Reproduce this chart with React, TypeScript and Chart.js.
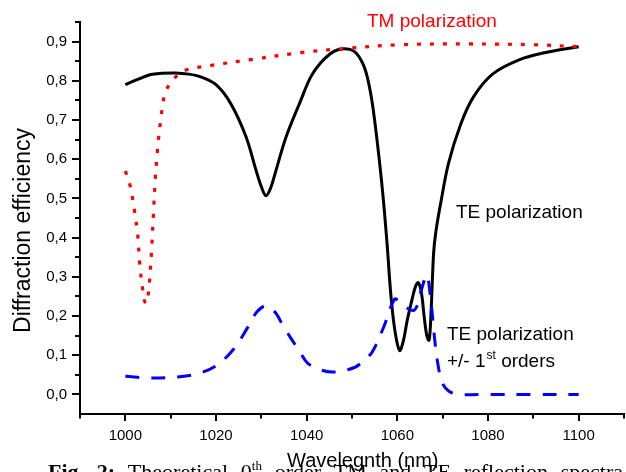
import React, { useEffect, useRef } from "react";
import { Chart, registerables } from "chart.js";

Chart.register(...registerables);

// ---- data ----
const TE0_WL = [1000, 1003, 1005.6, 1008, 1011, 1014, 1016.6, 1020, 1023.3, 1026.6, 1028.8, 1030, 1031, 1032, 1033.2, 1035.4, 1038.7, 1040.9, 1043.1, 1046, 1048.2, 1050.5, 1052.3, 1053.4, 1054.5, 1055.6, 1056.7, 1057.7, 1058.6, 1059.5, 1060.5, 1061.3, 1062.2, 1063.3, 1064, 1064.6, 1065.3, 1066, 1066.5, 1067, 1067.4, 1068, 1068.5, 1069.6, 1071.3, 1074, 1076.8, 1081, 1087, 1093, 1100];
const TE0_EFF = [0.79, 0.805, 0.816, 0.819, 0.82, 0.817, 0.81, 0.79, 0.741, 0.658, 0.573, 0.53, 0.507, 0.525, 0.57, 0.655, 0.75, 0.81, 0.846, 0.875, 0.882, 0.875, 0.846, 0.808, 0.741, 0.641, 0.523, 0.39, 0.25, 0.16, 0.112, 0.135, 0.19, 0.245, 0.275, 0.285, 0.26, 0.19, 0.15, 0.138, 0.2, 0.36, 0.415, 0.49, 0.59, 0.69, 0.759, 0.817, 0.854, 0.873, 0.887];

const TM_WL = [1000, 1001, 1002, 1002.7, 1003.2, 1003.8, 1004.2, 1004.6, 1005.0, 1005.4, 1005.8, 1006.2, 1006.6, 1007.1, 1007.8, 1008.8, 1010.4, 1012.8, 1018.8, 1027.7, 1038.7, 1048, 1060.7, 1075.5, 1090, 1100];
const TM_EFF = [0.57, 0.535, 0.47, 0.41, 0.33, 0.27, 0.24, 0.232, 0.25, 0.3, 0.37, 0.46, 0.55, 0.625, 0.7, 0.77, 0.8, 0.825, 0.839, 0.854, 0.872, 0.882, 0.892, 0.894, 0.892, 0.887];

const TE1_WL = [1000, 1005.6, 1012, 1016.6, 1020.3, 1024, 1027, 1029, 1031, 1033, 1035, 1038.7, 1040.2, 1043, 1046, 1050.4, 1052.5, 1054.5, 1057, 1059.4, 1060.6, 1062.2, 1063.6, 1064.5, 1065.4, 1066.5, 1067.4, 1068.1, 1068.8, 1069.9, 1071.4, 1073.5, 1080, 1090, 1100];
const TE1_EFF = [0.046, 0.042, 0.045, 0.055, 0.075, 0.117, 0.171, 0.21, 0.226, 0.21, 0.171, 0.105, 0.08, 0.063, 0.057, 0.068, 0.085, 0.109, 0.172, 0.243, 0.235, 0.22, 0.214, 0.23, 0.27, 0.304, 0.239, 0.156, 0.088, 0.03, 0.008, 0.0, 0.0, 0.0, 0.0];

const X_TICKS = [1000, 1020, 1040, 1060, 1080, 1100];
const X_MINOR = [990, 1010, 1030, 1050, 1070, 1090, 1110];
const Y_TICKS = [0, 0.1, 0.2, 0.3, 0.4, 0.5, 0.6, 0.7, 0.8, 0.9];
const Y_MINOR = [0.05, 0.15, 0.25, 0.35, 0.45, 0.55, 0.65, 0.75, 0.85, 0.95];

const X_TITLE = "Wavelegnth (nm)";
const Y_TITLE = "Diffraction efficiency";
const TM_LABEL = "TM polarization";
const TE_LABEL = "TE polarization";
const TE1_LABEL_1 = "TE polarization";
const TE1_LABEL_2A = "+/- 1";
const TE1_LABEL_2SUP = "st";
const TE1_LABEL_2B = " orders";
const CAPTION_WORDS = [
  { t: "Fig.", b: true },
  { t: "2:", b: true },
  { t: "Theoretical" },
  { t: "0", sup: "th" },
  { t: "order" },
  { t: "TM" },
  { t: "and" },
  { t: "TE" },
  { t: "reflection" },
  { t: "spectra" },
];

const SANS = '"Liberation Sans", Arial, sans-serif';
const SERIF = '"Liberation Serif", "Times New Roman", serif';

const toPts = (xs: number[], ys: number[]) => xs.map((x, i) => ({ x, y: ys[i] }));

const decorPlugin = {
  id: "decor",
  afterDraw(chart: any) {
    const ctx: CanvasRenderingContext2D = chart.ctx;
    const xs = chart.scales.x;
    const ys = chart.scales.y;
    const { left, bottom } = chart.chartArea;
    ctx.save();
    // tick marks
    ctx.strokeStyle = "#000";
    ctx.lineWidth = 2;
    ctx.beginPath();
    X_TICKS.forEach((v) => {
      const p = Math.round(xs.getPixelForValue(v));
      ctx.moveTo(p, bottom);
      ctx.lineTo(p, bottom + 7);
    });
    X_MINOR.forEach((v) => {
      const p = Math.round(xs.getPixelForValue(v));
      ctx.moveTo(p, bottom);
      ctx.lineTo(p, bottom + 4.5);
    });
    Y_TICKS.forEach((v) => {
      const p = Math.round(ys.getPixelForValue(v));
      ctx.moveTo(left, p);
      ctx.lineTo(left - 8, p);
    });
    Y_MINOR.forEach((v) => {
      const p = Math.round(ys.getPixelForValue(v));
      ctx.moveTo(left, p);
      ctx.lineTo(left - 5, p);
    });
    ctx.stroke();

    // annotations
    ctx.textBaseline = "alphabetic";
    ctx.textAlign = "left";
    ctx.font = `19px ${SANS}`;
    ctx.fillStyle = "#ff0000";
    ctx.fillText(TM_LABEL, 367, 27);
    ctx.fillStyle = "#000";
    ctx.fillText(TE_LABEL, 456, 218);
    ctx.fillText(TE1_LABEL_1, 447, 340);
    ctx.fillText(TE1_LABEL_2A, 447, 367);
    let xx = 447 + ctx.measureText(TE1_LABEL_2A).width + 1;
    ctx.font = `12px ${SANS}`;
    ctx.fillText(TE1_LABEL_2SUP, xx, 359);
    xx += ctx.measureText(TE1_LABEL_2SUP).width;
    ctx.font = `19px ${SANS}`;
    ctx.fillText(TE1_LABEL_2B, xx, 367);

    // axis titles
    ctx.font = `20px ${SANS}`;
    ctx.fillText(X_TITLE, 287, 467);
    ctx.save();
    ctx.translate(30, 230.5);
    ctx.rotate(-Math.PI / 2);
    ctx.font = `23px ${SANS}`;
    ctx.textAlign = "center";
    ctx.fillText(Y_TITLE, 0, 0);
    ctx.restore();

    // caption (justified, mostly cut off by the picture edge)
    const size = 22;
    const supSize = 13;
    const widths = CAPTION_WORDS.map((w: any) => {
      ctx.font = `${w.b ? "bold " : ""}${size}px ${SERIF}`;
      let wd = ctx.measureText(w.t).width;
      if (w.sup) {
        ctx.font = `${supSize}px ${SERIF}`;
        wd += ctx.measureText(w.sup).width;
      }
      return wd;
    });
    const startX = 48;
    const endX = 623;
    const total = widths.reduce((a, b) => a + b, 0);
    const gap = (endX - startX - total) / (CAPTION_WORDS.length - 1);
    let cx = startX;
    const base = 479;
    CAPTION_WORDS.forEach((w: any, i) => {
      ctx.font = `${w.b ? "bold " : ""}${size}px ${SERIF}`;
      ctx.fillText(w.t, cx, base);
      if (w.sup) {
        const mw = ctx.measureText(w.t).width;
        ctx.font = `${supSize}px ${SERIF}`;
        ctx.fillText(w.sup, cx + mw, base - 9);
      }
      cx += widths[i] + gap;
    });
    ctx.restore();
  },
};

export default function App() {
  const ref = useRef<HTMLCanvasElement | null>(null);
  useEffect(() => {
    if (!ref.current) return;
    const chart = new Chart(ref.current, {
      type: "line",
      data: {
        datasets: [
          {
            label: "TM",
            data: toPts(TM_WL, TM_EFF),
            borderColor: "#ff0000",
            borderWidth: 3.2,
            borderDash: [4, 9],
            borderCapStyle: "butt",
            fill: false,
          },
          {
            label: "TE ±1",
            data: toPts(TE1_WL, TE1_EFF),
            borderColor: "#0000ff",
            borderWidth: 3,
            borderDash: [14, 12],
            borderCapStyle: "butt",
            fill: false,
          },
          {
            label: "TE 0",
            data: toPts(TE0_WL, TE0_EFF),
            borderColor: "#000000",
            borderWidth: 3,
            fill: false,
          },
        ],
      },
      options: {
        responsive: false,
        animation: false,
        devicePixelRatio: 1,
        parsing: false as any,
        layout: { padding: { left: 0, top: 15, right: 2, bottom: 0 } },
        plugins: {
          legend: { display: false },
          tooltip: { enabled: false },
          title: { display: false },
        },
        elements: {
          point: { radius: 0, hoverRadius: 0 },
          line: { tension: 0.35, borderJoinStyle: "round" },
        },
        scales: {
          x: {
            type: "linear",
            min: 990,
            max: 1110,
            afterBuildTicks: (s: any) => {
              s.ticks = X_TICKS.map((v) => ({ value: v }));
            },
            afterFit: (s: any) => {
              s.height = 58;
            },
            grid: { display: false, drawTicks: false, tickLength: 0 },
            border: { display: true, color: "#000", width: 2 },
            ticks: {
              autoSkip: false,
              maxRotation: 0,
              minRotation: 0,
              padding: 13,
              color: "#000",
              font: { family: SANS, size: 15 },
              callback: (v: any) => String(v),
            },
          },
          y: {
            type: "linear",
            min: -0.05,
            max: 0.95,
            afterBuildTicks: (s: any) => {
              s.ticks = Y_TICKS.map((v) => ({ value: v }));
            },
            afterFit: (s: any) => {
              s.width = 80;
            },
            grid: { display: false, drawTicks: false, tickLength: 0 },
            border: { display: true, color: "#000", width: 2 },
            ticks: {
              padding: 13,
              color: "#000",
              font: { family: SANS, size: 15 },
              callback: (v: any) => Number(v).toFixed(1).replace(".", ","),
            },
          },
        },
      },
      plugins: [decorPlugin],
    } as any);
    return () => chart.destroy();
  }, []);
  return (
    <div style={{ position: "absolute", left: 0, top: 0, width: 626, height: 472, background: "#fff" }}>
      <canvas ref={ref} width={626} height={472} style={{ display: "block", width: 626, height: 472 }} />
    </div>
  );
}
